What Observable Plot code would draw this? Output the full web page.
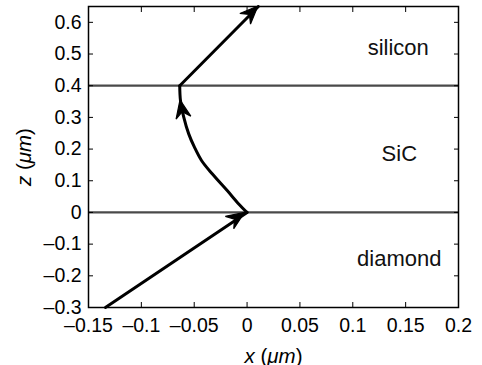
<!DOCTYPE html>
<html>
<head>
<meta charset="utf-8">
<script src="https://cdn.jsdelivr.net/npm/d3@7"></script>
<script src="https://cdn.jsdelivr.net/npm/@observablehq/plot@0.6"></script>
<style>
  html, body { margin: 0; padding: 0; background: white; }
  #chart { width: 482px; height: 365px; }
</style>
</head>
<body>
<div id="chart"></div>
<script>
// ---- data ----
const xDomain = [-0.15, 0.2];
const zDomain = [-0.3, 0.65];
const xTicks = [-0.15, -0.1, -0.05, 0, 0.05, 0.1, 0.15, 0.2];
const xTickLabels = ["\u20130.15", "\u20130.1", "\u20130.05", "0", "0.05", "0.1", "0.15", "0.2"];
const zTicks = [-0.3, -0.2, -0.1, 0, 0.1, 0.2, 0.3, 0.4, 0.5, 0.6];
const zTickLabels = ["\u20130.3", "\u20130.2", "\u20130.1", "0", "0.1", "0.2", "0.3", "0.4", "0.5", "0.6"];
const interfaces = [0, 0.4];
const layerNames = ["silicon", "SiC", "diamond"];
const layerX = [0.143, 0.144, 0.144];
const layerZ = [0.518, 0.186, -0.148];
// ray path, segment by segment
const diamondRayX = [-0.134, 0];
const diamondRayZ = [-0.3, 0];
const sicRayX = [0, -0.0079, -0.0188, -0.033, -0.0431, -0.0498, -0.0552, -0.0599, -0.063, -0.0637];
const sicRayZ = [0, 0.027, 0.069, 0.122, 0.164, 0.206, 0.248, 0.301, 0.3535, 0.4];
const siliconRayX = [-0.0637, 0.0107];
const siliconRayZ = [0.4, 0.65];
// arrowheads: tip point and a point behind it giving the direction
const headTipX = [-0.002, -0.063, 0.0107];
const headTipZ = [-0.0015, 0.3535, 0.65];
const headFromX = [-0.134, -0.0599, -0.0637];
const headFromZ = [-0.3, 0.301, 0.4];

const pts = (xs, zs) => xs.map((x, i) => ({x, z: zs[i]}));
const labels = layerNames.map((name, i) => ({name, x: layerX[i], z: layerZ[i]}));
const heads = headTipX.map((x, i) => ({x, z: headTipZ[i], fx: headFromX[i], fz: headFromZ[i]}));
const xLab = new Map(xTicks.map((t, i) => [t, xTickLabels[i]]));
const zLab = new Map(zTicks.map((t, i) => [t, zTickLabels[i]]));

// custom mark: filled MATLAB-style arrowheads, positioned through Plot's scales
function arrowHeads(index, scales) {
  const g = d3.create("svg:g");
  const L = 18, W = 7.5, N = 12;
  for (const h of heads) {
    const tx = scales.x(h.x), ty = scales.y(h.z);
    const fx = scales.x(h.fx), fy = scales.y(h.fz);
    let dx = tx - fx, dy = ty - fy;
    const len = Math.hypot(dx, dy); dx /= len; dy /= len;
    const px = -dy, py = dx;
    const p = [
      [tx, ty],
      [tx - L * dx + W * px, ty - L * dy + W * py],
      [tx - N * dx, ty - N * dy],
      [tx - L * dx - W * px, ty - L * dy - W * py]
    ];
    g.append("path").attr("d", "M" + p.map(q => q.join(",")).join("L") + "Z")
      .attr("fill", "black").attr("stroke", "black").attr("stroke-width", 1.2).attr("stroke-linejoin", "miter");
  }
  return g.node();
}

const chart = Plot.plot({
  width: 482,
  height: 365,
  marginLeft: 88,
  marginRight: 24,
  marginTop: 6,
  marginBottom: 58,
  style: {fontFamily: "'Liberation Sans', Arial, sans-serif", fontSize: "19.5px", background: "white", color: "black", overflow: "visible"},
  x: {domain: xDomain},
  y: {domain: zDomain},
  marks: [
    Plot.ruleY(interfaces, {stroke: "#4a4a4a", strokeWidth: 2.2}),
    Plot.line(pts(diamondRayX, diamondRayZ), {x: "x", y: "z", stroke: "black", strokeWidth: 3}),
    Plot.line(pts(sicRayX, sicRayZ), {x: "x", y: "z", stroke: "black", strokeWidth: 3, curve: "catmull-rom"}),
    Plot.line(pts(siliconRayX, siliconRayZ), {x: "x", y: "z", stroke: "black", strokeWidth: 3}),
    arrowHeads,
    Plot.text(labels, {x: "x", y: "z", text: "name", fontSize: 22, fill: "#111"}),
    Plot.frame({stroke: "black", strokeWidth: 1.5}),
    Plot.axisX({ticks: xTicks, tickFormat: d => xLab.get(d), tickSize: -5, tickPadding: 16, label: "x (\u03bcm)", labelAnchor: "center", labelOffset: 55}),
    Plot.axisX({anchor: "top", ticks: xTicks, tickFormat: () => "", tickSize: -5, label: null}),
    Plot.axisY({ticks: zTicks, tickFormat: d => zLab.get(d), tickSize: -5, tickPadding: 12, label: "z (\u03bcm)", labelAnchor: "center", labelOffset: 72}),
    Plot.axisY({anchor: "right", ticks: zTicks, tickFormat: () => "", tickSize: -5, label: null})
  ]
});
document.getElementById("chart").appendChild(chart);

// italicise the variable and unit in the axis labels (keeps real text), drop Plot's arrow
d3.select(chart).selectAll("text").each(function() {
  const t = this.textContent.trim();
  const m = /^[\u2190-\u2193]?\s*([xz]) \(\u03bcm\)\s*[\u2190-\u2193]?$/.exec(t);
  if (m) {
    const sel = d3.select(this);
    sel.text("");
    sel.attr("font-size", 20.5).attr("fill", "black");
    sel.append("tspan").attr("font-style", "italic").text(m[1]);
    sel.append("tspan").text(" (");
    sel.append("tspan").attr("font-style", "italic").text("\u03bcm");
    sel.append("tspan").text(")");
  }
});
</script>
</body>
</html>
